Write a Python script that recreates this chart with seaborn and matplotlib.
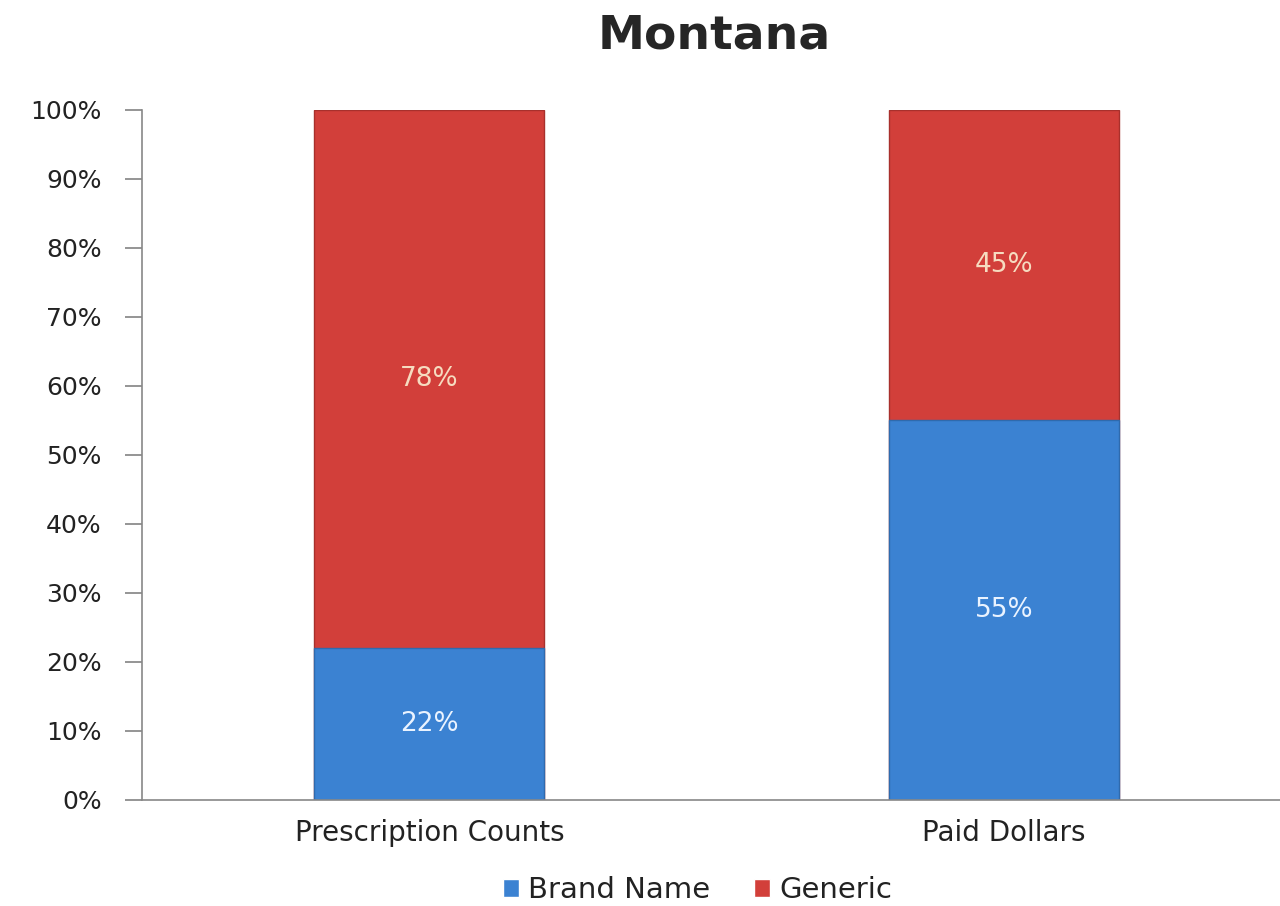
import matplotlib
matplotlib.use("Agg")
import matplotlib.pyplot as plt
import pandas as pd
import seaborn as sns
from matplotlib.patches import Patch
from matplotlib.ticker import PercentFormatter, MultipleLocator

# data
categories = ["Prescription Counts", "Paid Dollars"]
brand_name = [22, 55]
generic = [78, 45]

BLUE = "#3b82d2"
RED = "#d23f3a"

sns.set_theme(style="white")
plt.rcParams["font.family"] = ["DejaVu Sans"]

df = pd.DataFrame({"category": categories, "Brand Name": brand_name, "Generic": generic})
df["total"] = df["Brand Name"] + df["Generic"]

fig = plt.figure(figsize=(12.8, 9.06), dpi=100)
ax = fig.add_axes([0.111, 0.117, 0.889, 0.762])

# stacked: draw the totals in red, then brand name on top in blue
sns.barplot(data=df, x="category", y="total", color=RED, width=0.4,
            edgecolor="#a8302c", linewidth=1, saturation=1, ax=ax)
sns.barplot(data=df, x="category", y="Brand Name", color=BLUE, width=0.4,
            edgecolor="#2f6aad", linewidth=1, saturation=1, ax=ax)

for i, row in df.iterrows():
    ax.text(i, row["Brand Name"] / 2, f"{row['Brand Name']}%", ha="center", va="center",
            fontsize=19, color="#eaf3ff")
    ax.text(i, row["Brand Name"] + row["Generic"] / 2, f"{row['Generic']}%", ha="center",
            va="center", fontsize=19, color="#f6dcc0")

ax.set_ylim(0, 100)
ax.set_xlim(-0.5, 1.48)
ax.yaxis.set_major_locator(MultipleLocator(10))
ax.yaxis.set_major_formatter(PercentFormatter(decimals=0))
ax.set_xlabel("")
ax.set_ylabel("")
ax.set_xticks([0.5], minor=True)
ax.tick_params(axis="x", which="major", length=0, labelsize=20, pad=14, labelcolor="#222222")
ax.tick_params(axis="x", which="minor", length=6, color="#888888", direction="out")
ax.tick_params(axis="y", length=12, color="#888888", labelsize=18, pad=17, left=True,
               labelcolor="#222222")
for side in ["top", "right"]:
    ax.spines[side].set_visible(False)
for side in ["left", "bottom"]:
    ax.spines[side].set_color("#888888")
    ax.spines[side].set_linewidth(1.2)

fig.suptitle("Montana", fontsize=34, fontweight="bold", x=0.558, y=0.985)

handles = [Patch(facecolor=BLUE, label="Brand Name"), Patch(facecolor=RED, label="Generic")]
fig.legend(handles=handles, loc="lower center", ncol=2, frameon=False, fontsize=21,
           bbox_to_anchor=(0.545, -0.027), handlelength=0.55, handleheight=0.55,
           handletextpad=0.3, columnspacing=1.5, labelcolor="#222222")

fig.savefig("out.png", dpi=100)
